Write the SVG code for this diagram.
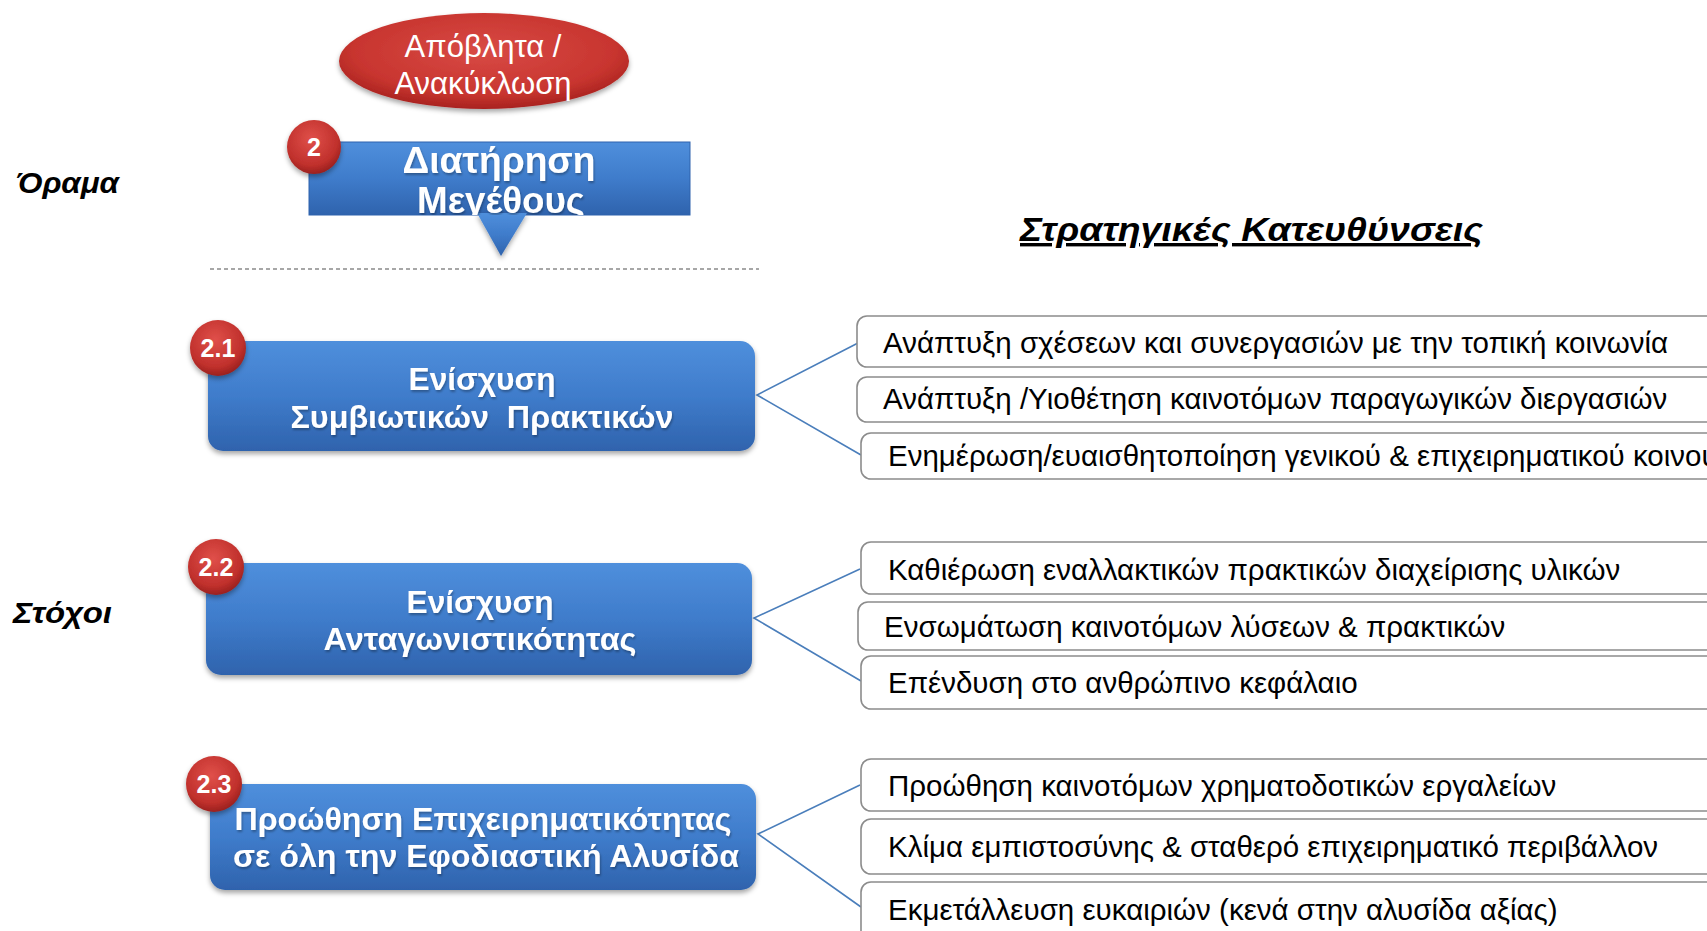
<svg xmlns="http://www.w3.org/2000/svg" width="1707" height="931" viewBox="0 0 1707 931">
<defs>
<linearGradient id="gBlue" x1="0" y1="0" x2="0" y2="1">
<stop offset="0" stop-color="#4f8fdc"/>
<stop offset="0.5" stop-color="#3f7ccb"/>
<stop offset="1" stop-color="#2f63ad"/>
</linearGradient>
<radialGradient id="gRed" cx="0.45" cy="0.35" r="0.7">
<stop offset="0" stop-color="#e0504a"/>
<stop offset="0.7" stop-color="#c0302c"/>
<stop offset="1" stop-color="#8e1c1a"/>
</radialGradient>
<radialGradient id="gEll" cx="0.5" cy="0.4" r="0.6">
<stop offset="0" stop-color="#d84a45"/>
<stop offset="0.75" stop-color="#c8352f"/>
<stop offset="1" stop-color="#a8221f"/>
</radialGradient>
<filter id="sh" x="-10%" y="-10%" width="120%" height="130%">
<feDropShadow dx="0" dy="3" stdDeviation="2.5" flood-color="#000" flood-opacity="0.35"/>
</filter>
<filter id="tsh" x="-5%" y="-20%" width="110%" height="140%">
<feDropShadow dx="1" dy="2" stdDeviation="1" flood-color="#000" flood-opacity="0.3"/>
</filter>
<clipPath id="clipTop"><rect x="309" y="120" width="381" height="95"/></clipPath>
<style>
.goal{fill:url(#gBlue);filter:url(#sh)}
.gtxt{font-family:"Liberation Sans",Arial,sans-serif;font-weight:bold;fill:#fff;text-anchor:middle}
.badge{fill:url(#gRed);filter:url(#sh)}
.btxt{font-family:"Liberation Sans",Arial,sans-serif;font-weight:bold;font-size:25px;fill:#fff;text-anchor:middle}
.sbox{fill:#fff;stroke:#8c8c8c;stroke-width:1.6}
.stxt{font-family:"Liberation Sans",Arial,sans-serif;font-size:29.5px;fill:#000}
.lbl{font-family:"Liberation Sans",Arial,sans-serif;font-weight:bold;font-style:italic;fill:#000}
.conn{stroke:#4a7ebb;stroke-width:1.6;fill:none}
</style>
</defs>
<rect width="1707" height="931" fill="#fff"/>

<g id="label-orama"><text class="lbl" x="16" y="193" font-size="30" textLength="103" lengthAdjust="spacingAndGlyphs">Όραμα</text></g>
<g id="label-stoxoi"><text class="lbl" x="13" y="623" font-size="30" textLength="99" lengthAdjust="spacingAndGlyphs">Στόχοι</text></g>
<g id="label-kateythynseis"><text class="lbl" x="1020" y="241" font-size="34" textLength="463" lengthAdjust="spacingAndGlyphs" text-decoration="underline">Στρατηγικές Κατευθύνσεις</text></g>

<g id="node-apovlita">
<ellipse cx="484" cy="61" rx="145" ry="48" fill="url(#gEll)" filter="url(#sh)"/>
<text x="483" y="57" font-family="Liberation Sans, Arial, sans-serif" font-size="31" fill="#fff" text-anchor="middle">Απόβλητα /</text>
<text x="483" y="94" font-family="Liberation Sans, Arial, sans-serif" font-size="31" fill="#fff" text-anchor="middle">Ανακύκλωση</text>
</g>

<g id="node-2">
<rect x="309" y="142" width="381" height="73" fill="url(#gBlue)" stroke="#2f63ad" stroke-width="1"/>
<path d="M477,213 L527,213 L501,256 Z" fill="url(#gBlue)" filter="url(#sh)"/>
<g clip-path="url(#clipTop)">
<text class="gtxt" x="499" y="173" font-size="36" textLength="193" lengthAdjust="spacingAndGlyphs" filter="url(#tsh)">Διατήρηση</text>
<text class="gtxt" x="501" y="213" font-size="36" textLength="168" lengthAdjust="spacingAndGlyphs" filter="url(#tsh)">Μεγέθους</text>
</g>
<circle class="badge" cx="314" cy="147" r="27"/>
<text class="btxt" x="314" y="156">2</text>
</g>

<line x1="210" y1="269" x2="759" y2="269" stroke="#8a8a8a" stroke-width="1.3" stroke-dasharray="4,3"/>

<g id="connectors">
<polyline class="conn" points="858,343 757,395 861,455"/>
<polyline class="conn" points="860,569 754,618 861,681"/>
<polyline class="conn" points="860,785 758,834 861,907"/>
</g>

<g id="node-2-1">
<rect class="goal" x="208" y="341" width="547" height="110" rx="15"/>
<text class="gtxt" x="482" y="390" font-size="31" textLength="147" lengthAdjust="spacingAndGlyphs" filter="url(#tsh)">Ενίσχυση</text>
<text class="gtxt" x="482" y="428" font-size="31" textLength="383" lengthAdjust="spacingAndGlyphs" filter="url(#tsh)" xml:space="preserve">Συμβιωτικών  Πρακτικών</text>
<circle class="badge" cx="218" cy="348" r="28"/>
<text class="btxt" x="218" y="357">2.1</text>
</g>

<g id="node-2-2">
<rect class="goal" x="206" y="563" width="546" height="112" rx="15"/>
<text class="gtxt" x="480" y="613" font-size="31" textLength="147" lengthAdjust="spacingAndGlyphs" filter="url(#tsh)">Ενίσχυση</text>
<text class="gtxt" x="480" y="650" font-size="31" textLength="313" lengthAdjust="spacingAndGlyphs" filter="url(#tsh)">Ανταγωνιστικότητας</text>
<circle class="badge" cx="216" cy="567" r="28"/>
<text class="btxt" x="216" y="576">2.2</text>
</g>

<g id="node-2-3">
<rect class="goal" x="210" y="784" width="546" height="106" rx="15"/>
<text class="gtxt" x="483" y="830" font-size="31.5" textLength="497" lengthAdjust="spacingAndGlyphs" filter="url(#tsh)">Προώθηση Επιχειρηματικότητας</text>
<text class="gtxt" x="486" y="867" font-size="31.5" textLength="506" lengthAdjust="spacingAndGlyphs" filter="url(#tsh)">σε όλη την Εφοδιαστική Αλυσίδα</text>
<circle class="badge" cx="214" cy="784" r="28"/>
<text class="btxt" x="214" y="793">2.3</text>
</g>

<g id="dir-1"><rect class="sbox" x="857" y="316" width="880" height="51" rx="10"/><text class="stxt" x="883" y="353">Ανάπτυξη σχέσεων και συνεργασιών με την τοπική κοινωνία</text></g>
<g id="dir-2"><rect class="sbox" x="857" y="377" width="880" height="45" rx="10"/><text class="stxt" x="883" y="409">Ανάπτυξη /Υιοθέτηση καινοτόμων παραγωγικών διεργασιών</text></g>
<g id="dir-3"><rect class="sbox" x="861" y="433" width="880" height="46" rx="10"/><text class="stxt" x="888" y="466">Ενημέρωση/ευαισθητοποίηση γενικού &amp; επιχειρηματικού κοινού</text></g>

<g id="dir-4"><rect class="sbox" x="861" y="542" width="880" height="52" rx="10"/><text class="stxt" x="888" y="580">Καθιέρωση εναλλακτικών πρακτικών διαχείρισης υλικών</text></g>
<g id="dir-5"><rect class="sbox" x="858" y="602" width="880" height="48" rx="10"/><text class="stxt" x="884" y="637">Ενσωμάτωση καινοτόμων λύσεων &amp; πρακτικών</text></g>
<g id="dir-6"><rect class="sbox" x="861" y="656" width="880" height="53" rx="10"/><text class="stxt" x="888" y="693">Επένδυση στο ανθρώπινο κεφάλαιο</text></g>

<g id="dir-7"><rect class="sbox" x="861" y="759" width="880" height="52" rx="10"/><text class="stxt" x="888" y="796">Προώθηση καινοτόμων χρηματοδοτικών εργαλείων</text></g>
<g id="dir-8"><rect class="sbox" x="861" y="819" width="880" height="55" rx="10"/><text class="stxt" x="888" y="857">Κλίμα εμπιστοσύνης &amp; σταθερό επιχειρηματικό περιβάλλον</text></g>
<g id="dir-9"><rect class="sbox" x="861" y="882" width="880" height="60" rx="10"/><text class="stxt" x="888" y="920">Εκμετάλλευση ευκαιριών (κενά στην αλυσίδα αξίας)</text></g>
</svg>
